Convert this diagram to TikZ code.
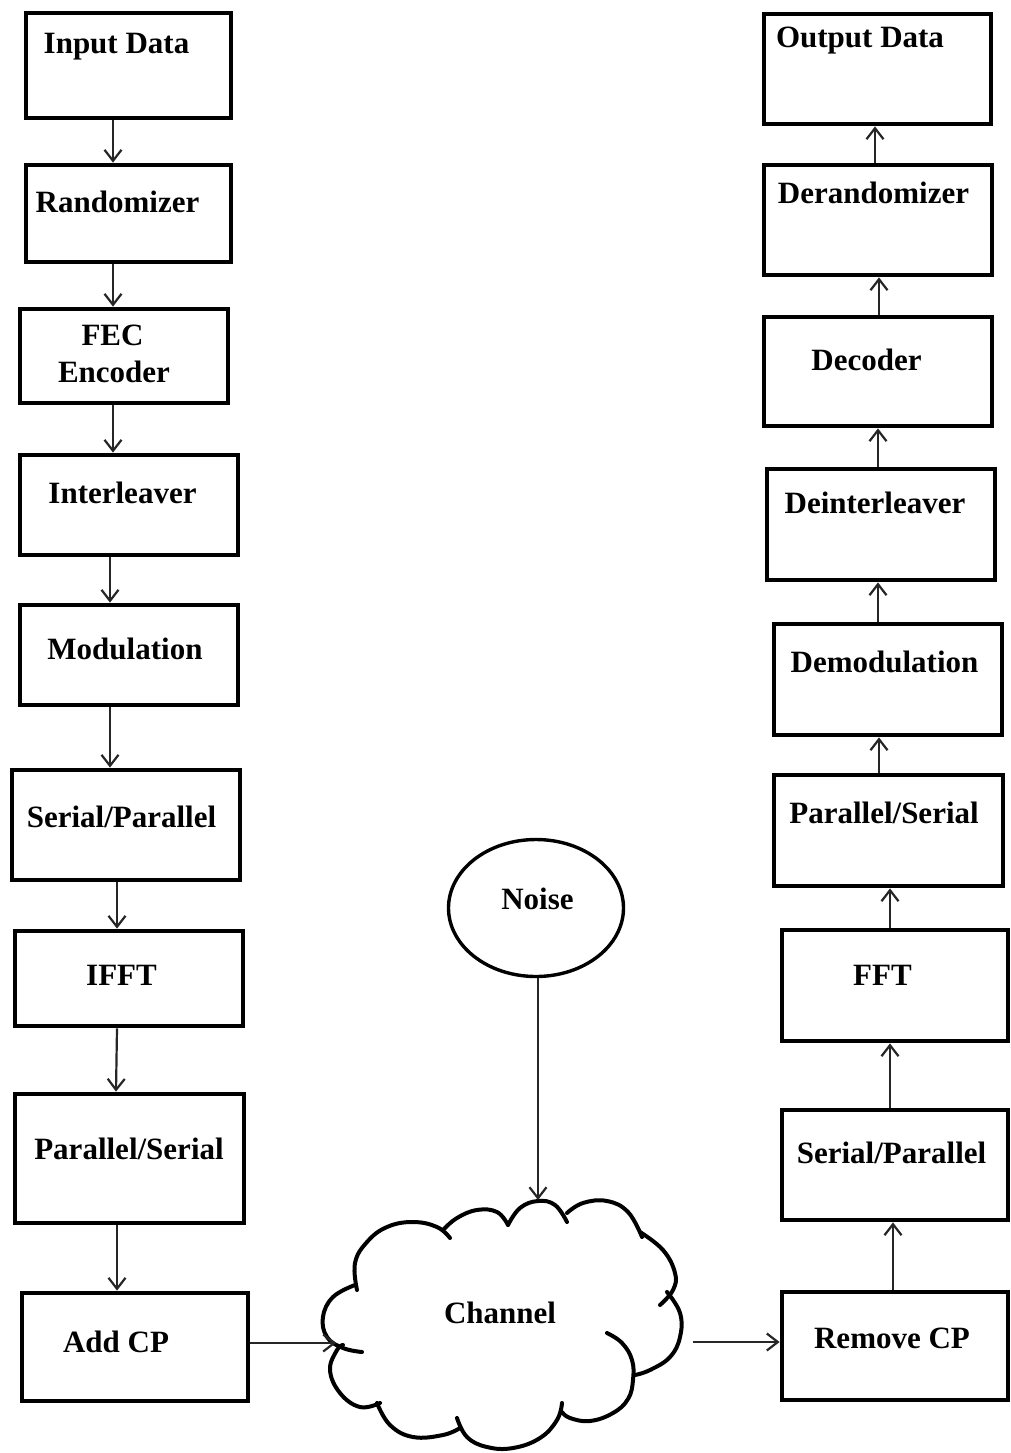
\documentclass[tikz,border=0pt]{standalone}
\usepackage{fontspec}
\setmainfont{Liberation Serif}
\usetikzlibrary{arrows.meta,shapes.geometric}

\tikzset{
  box/.style={draw, line width=2.4pt, inner sep=0pt},
  lbl/.style={font=\fontsize{15.5}{18}\selectfont\bfseries, inner sep=0pt, anchor=base},
  arr/.style={draw=black!85, line width=1.1pt, -{Straight Barb[length=5.5pt,width=8.5pt,line width=1.1pt]}},
  cloudline/.style={draw, line width=2pt, line cap=round},
}

% block: name, centre x, centre y, width, height (pixel units)
\newcommand\blk[5]{\node[box, minimum width=#4*0.5pt, minimum height=#5*0.5pt] (#1) at (#2,#3) {};}

\begin{document}
\begin{tikzpicture}[x=0.5pt, y=-0.5pt]
\fill[white] (0,0) rectangle (1011,1453);
\useasboundingbox (0,0) rectangle (1011,1453);

% transmitter chain
\blk{inp}{128.5}{65.5}{205}{105}
\blk{rnd}{128.5}{213.5}{205}{97}
\blk{fec}{124}{356}{208}{94}
\blk{itl}{129}{505}{218}{100}
\blk{mod}{129}{655}{218}{100}
\blk{tsp}{126}{825}{228}{110}
\blk{ifft}{129}{978.5}{228}{95}
\blk{tps}{129.5}{1158.5}{229}{129}
\blk{acp}{135}{1347}{226}{108}

\node[lbl] (inpt) at (116.5,53) {Input Data};
\node[lbl] (rndt) at (117.5,212) {Randomizer};
\node[lbl] (fect1) at (112.5,345) {FEC};
\node[lbl] (fect2) at (114,382) {Encoder};
\node[lbl] (itlt) at (122.5,503) {Interleaver};
\node[lbl] (modt) at (125,659) {Modulation};
\node[lbl] (tspt) at (121.5,827) {Serial/Parallel};
\node[lbl] (ifftt) at (121.5,985) {IFFT};
\node[lbl] (tpst) at (129,1159) {Parallel/Serial};
\node[lbl] (acpt) at (116,1352) {Add CP};

% receiver chain
\blk{out}{877.5}{69}{227}{110}
\blk{der}{878}{220}{228}{110}
\blk{dec}{878}{371.5}{228}{109}
\blk{dil}{881}{524.5}{228}{111}
\blk{dem}{888}{679.5}{228}{111}
\blk{rps}{888.5}{830.5}{229}{111}
\blk{fft}{895}{985.5}{226}{111}
\blk{rsp}{895}{1165}{226}{110}
\blk{rcp}{895}{1346}{226}{108}

\node[lbl] (outt) at (860,47) {Output Data};
\node[lbl] (dert) at (873.5,203) {Derandomizer};
\node[lbl] (dect) at (866.5,370) {Decoder};
\node[lbl] (dilt) at (875,513) {Deinterleaver};
\node[lbl] (demt) at (884.5,672) {Demodulation};
\node[lbl] (rpst) at (884,823) {Parallel/Serial};
\node[lbl] (fftt) at (882.5,985) {FFT};
\node[lbl] (rspt) at (891.5,1163) {Serial/Parallel};
\node[lbl] (rcpt) at (892,1348) {Remove CP};

% noise source
\node[draw, ellipse, line width=1.7pt, minimum width=175*0.5pt, minimum height=137*0.5pt, inner sep=0pt] (noise) at (536,908) {};
\node[lbl] (noiset) at (537.5,909) {Noise};

% channel cloud, drawn lobe by lobe
\draw[cloudline] plot[smooth, tension=0.7] coordinates {(508,1225) (520,1208) (538,1201) (555,1205) (567,1222)};
\draw[cloudline] plot[smooth, tension=0.7] coordinates {(567,1213) (583,1203) (607,1201) (628,1212) (642,1237)};
\draw[cloudline] plot[smooth, tension=0.7] coordinates {(640,1232) (663,1250) (675,1273) (673,1290) (660,1305)};
\draw[cloudline] plot[smooth, tension=0.7] coordinates {(667,1292) (680,1313) (680,1337) (670,1357) (650,1370) (635,1375)};
\draw[cloudline] plot[smooth, tension=0.7] coordinates {(607,1333) (622,1343) (632,1360) (633,1380) (628,1399) (613,1413) (590,1421) (570,1418) (562,1412)};
\draw[cloudline] plot[smooth, tension=0.7] coordinates {(562,1403) (557,1420) (540,1438) (513,1448) (487,1447) (467,1437) (457,1418)};
\draw[cloudline] plot[smooth, tension=0.7] coordinates {(460,1428) (443,1435) (413,1437) (390,1425) (377,1403)};
\draw[cloudline] plot[smooth, tension=0.7] coordinates {(380,1403) (360,1407) (340,1393) (330,1370) (337,1350) (343,1345)};
\draw[cloudline] plot[smooth, tension=0.7] coordinates {(362,1352) (343,1348) (327,1337) (323,1317) (333,1297) (355,1285)};
\draw[cloudline] plot[smooth, tension=0.7] coordinates {(357,1290) (355,1263) (367,1242) (387,1227) (413,1222) (437,1227) (450,1238)};
\draw[cloudline] plot[smooth, tension=0.7] coordinates {(443,1230) (457,1218) (477,1210) (497,1212) (508,1225)};
\node[lbl] (cht) at (500,1323) {Channel};

\coordinate (chin) at (336,1343);
\coordinate (chout) at (693,1342);
\coordinate (chtop) at (538,1200);

% transmitter connectors
\draw[arr] (inp.south -| 113,0) -- (rnd.north -| 113,0);
\draw[arr] (rnd.south -| 113,0) -- (fec.north -| 113,0);
\draw[arr] (fec.south -| 113,0) -- (itl.north -| 113,0);
\draw[arr] (itl.south -| 110,0) -- (mod.north -| 110,0);
\draw[arr] (mod.south -| 110,0) -- (tsp.north -| 110,0);
\draw[arr] (tsp.south -| 117,0) -- (ifft.north -| 117,0);
\draw[arr] (ifft.south -| 117,0) -- (tps.north -| 116,0);
\draw[arr] (tps.south -| 117,0) -- (acp.north -| 117,0);

% channel connectors
\draw[arr] (acp.east |- chin) -- (chin);
\draw[arr] (noise.south -| chtop) -- (chtop);
\draw[arr] (chout) -- (rcp.west |- chout);

% receiver connectors
\draw[arr] (rcp.north -| 893,0) -- (rsp.south -| 893,0);
\draw[arr] (rsp.north -| 890,0) -- (fft.south -| 890,0);
\draw[arr] (fft.north -| 890,0) -- (rps.south -| 890,0);
\draw[arr] (rps.north -| 879,0) -- (dem.south -| 879,0);
\draw[arr] (dem.north -| 878,0) -- (dil.south -| 878,0);
\draw[arr] (dil.north -| 878,0) -- (dec.south -| 878,0);
\draw[arr] (dec.north -| 879,0) -- (der.south -| 879,0);
\draw[arr] (der.north -| 875,0) -- (out.south -| 875,0);
\end{tikzpicture}
\end{document}
